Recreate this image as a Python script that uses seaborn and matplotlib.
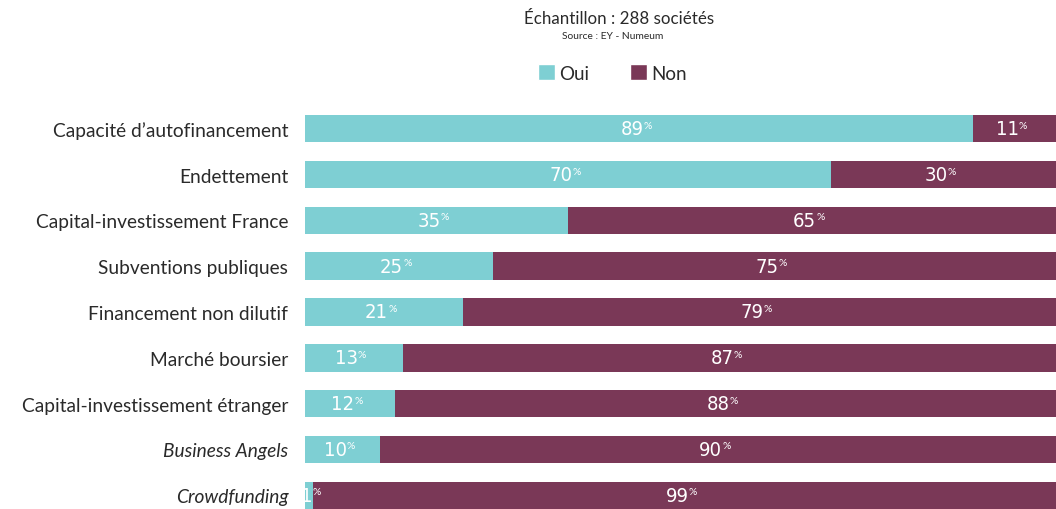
import numpy as np
import pandas as pd
import matplotlib.pyplot as plt
import seaborn as sns
from matplotlib.patches import Patch

# Sources de financement - part des sociétés (Oui / Non)
categories = [
    "Capacité d\u2019autofinancement",
    "Endettement",
    "Capital-investissement France",
    "Subventions publiques",
    "Financement non dilutif",
    "Marché boursier",
    "Capital-investissement étranger",
    "Business Angels",
    "Crowdfunding",
]
oui = [89, 70, 35, 25, 21, 13, 12, 10, 1]
non = [11, 30, 65, 75, 79, 87, 88, 90, 99]

teal = "#7ecfd3"
maroon = "#7a3857"
txt = "#2a2a2a"

sns.set_theme(style="white")
plt.rcParams['font.family'] = ['Lato', 'DejaVu Sans']

df = pd.DataFrame({"cat": categories, "oui": oui, "non": non})
df["total"] = df["oui"] + df["non"]

fig = plt.figure(figsize=(10.56, 5.10), dpi=100)
ax = fig.add_axes([305 / 1056, 0, 1 - 305 / 1056, (510 - 116) / 510])

sns.barplot(data=df, x="total", y="cat", color=maroon, width=0.6, saturation=1,
            linewidth=0, ax=ax)
sns.barplot(data=df, x="oui", y="cat", color=teal, width=0.6, saturation=1,
            linewidth=0, ax=ax)

ax.set_xlim(0, 100)
ax.set_ylim(8.3, -0.3)
ax.set_xlabel("")
ax.set_ylabel("")
ax.set_xticks([])
sns.despine(ax=ax, left=True, bottom=True)
ax.tick_params(axis="y", length=0, pad=12, labelsize=13.8, labelcolor=txt)
for lbl in ax.get_yticklabels():
    if lbl.get_text() in ("Business Angels", "Crowdfunding"):
        lbl.set_fontstyle("italic")

# value labels: number + small percent sign
def put_label(x, y, val):
    ax.annotate(str(val), (x, y), xytext=(3, 0), textcoords="offset points",
                ha="right", va="center", color="white", fontsize=14.5,
                fontstretch="condensed", family=["DejaVu Sans"])
    ax.annotate("%", (x, y), xytext=(3, 2.5), textcoords="offset points",
                ha="left", va="center", color="white", fontsize=7.5)

for i, (o, n) in enumerate(zip(oui, non)):
    put_label(o / 2 if o > 2 else 0.5, i, o)
    put_label(o + n / 2, i, n)

fig.text(0.586, 0.963, "Échantillon : 288 sociétés", ha="center", va="center",
         fontsize=12.2, color=txt)
fig.text(0.58, 0.928, "Source : EY - Numeum", ha="center", va="center",
         fontsize=7.4, color=txt)

handles = [Patch(facecolor=teal, label="Oui"), Patch(facecolor=maroon, label="Non")]
leg = fig.legend(handles=handles, loc="center", bbox_to_anchor=(0.58, 0.855), ncol=2,
                 frameon=False, fontsize=13.5, handlelength=0.9, handleheight=0.9,
                 handletextpad=0.2, columnspacing=2.2)
for t in leg.get_texts():
    t.set_color(txt)

fig.savefig("out.png", dpi=100)
